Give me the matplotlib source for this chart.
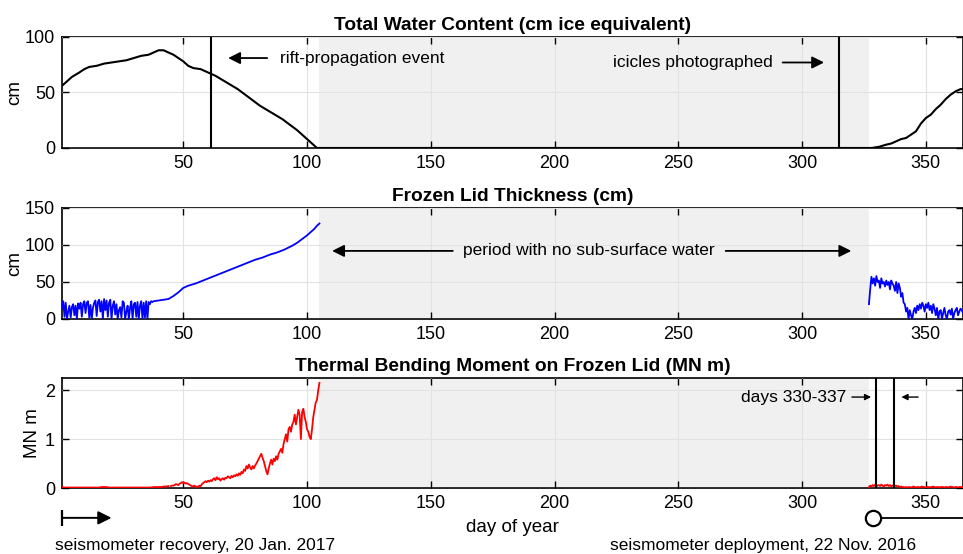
import numpy as np
import matplotlib
matplotlib.use('Agg')
import matplotlib.pyplot as plt

plt.rcParams['font.family'] = ['Liberation Sans', 'DejaVu Sans']

# ---- data ----
# total water content (cm ice equivalent)
twc_days = [1, 3, 5, 8, 10, 12, 15, 18, 21, 24, 27, 30, 33, 36, 38, 40, 42, 44, 46, 48,
            50, 52, 54, 57, 60, 63, 66, 69, 72, 75, 78, 81, 84, 87, 90, 93, 96, 99, 101,
            103, 104, 105, 200, 328, 331, 334, 336, 338, 340, 342, 344, 346, 348, 350,
            352, 354, 356, 358, 360, 362, 364, 365]
twc_vals = [56, 60, 64, 68, 71, 73, 74, 76, 77, 78, 79, 81, 83, 84, 86, 88, 88, 86, 84, 81,
            78, 74, 72, 71, 68, 65, 61, 57, 53, 48, 43, 38, 34, 30, 26, 21, 16, 10, 6,
            2, 0, 0, 0, 0, 1, 3, 4, 6, 8, 9, 12, 15, 22, 27,
            30, 35, 39, 44, 48, 51, 53, 53]

# frozen lid thickness (cm), noisy start sampled every half day from day 1
lid_noisy_a = [15, 24, 3, 22, 0, 10, 18, 2, 16, 20, 5, 18, 0, 21, 14, 22, 3, 20, 24, 8,
               22, 24, 2, 19, 0, 15, 22, 25, 4, 23, 26, 10, 24, 0, 27, 12, 25, 3, 22, 26,
               0, 18, 24, 6, 20, 0, 12, 16, 2, 24, 22, 0, 10, 18, 0, 15, 24, 0, 20, 22,
               3, 23, 0, 18, 24, 0, 22, 2, 24, 0, 23, 20, 24, 23]
lid_days_b = [38, 40, 42, 44, 46, 48, 50, 52, 55, 58, 61, 64, 67, 70, 73, 76, 79, 82, 85,
              88, 91, 94, 96, 98, 100, 102, 103, 104, 105]
lid_vals_b = [24, 25, 26, 27, 31, 36, 42, 45, 48, 52, 56, 60, 64, 68, 72, 76, 80, 83, 87,
              90, 94, 99, 103, 108, 113, 119, 122, 126, 129]
# late-year part, half-day samples from day 327
lid_noisy_c = [20, 40, 57, 48, 55, 45, 58, 50, 52, 42, 55, 48, 50, 44, 52, 46, 50, 40, 52, 48,
               45, 38, 50, 35, 48, 42, 30, 35, 22, 20, 10, 15, 0, 12, 5, 0, 10, 15, 8, 18,
               12, 20, 14, 22, 18, 10, 20, 15, 22, 12, 18, 8, 20, 14, 5, 15, 0, 10, 12, 0,
               8, 15, 5, 0, 10, 12, 6, 14, 0, 8, 12, 15, 5, 10, 14, 12, 8]

# thermal bending moment (MN m)
bm_vals_a = [0.02, 0.01, 0.01, 0.01, 0.01, 0.01, 0.01, 0.01, 0.01, 0.01, 0.01, 0.01, 0.01,
             0.01, 0.01, 0.01, 0.02, 0.02, 0.02, 0.01, 0.01, 0.01, 0.01, 0.01, 0.01, 0.01,
             0.01, 0.01, 0.01, 0.01, 0.01, 0.01, 0.01, 0.01, 0.01, 0.01, 0.01, 0.02, 0.02,
             0.02, 0.02, 0.03, 0.03, 0.04]
bm_vals_b = [0.04, 0.05, 0.05, 0.06, 0.08, 0.07, 0.06, 0.09, 0.10, 0.12, 0.10, 0.11, 0.09,
             0.10, 0.08, 0.07, 0.05, 0.04, 0.03, 0.05, 0.02, 0.03, 0.02, 0.05, 0.04, 0.08,
             0.10, 0.12, 0.14, 0.12, 0.15, 0.13, 0.16, 0.14, 0.18, 0.20, 0.16, 0.22, 0.18,
             0.20, 0.15, 0.18, 0.20, 0.17, 0.21, 0.20, 0.24, 0.22, 0.20, 0.25, 0.22, 0.26,
             0.24, 0.28, 0.25, 0.30, 0.27, 0.33, 0.30, 0.38, 0.35, 0.45, 0.40, 0.48, 0.42,
             0.38, 0.45, 0.40, 0.46, 0.50, 0.55, 0.60, 0.65, 0.70, 0.62, 0.55, 0.45, 0.35,
             0.28, 0.40, 0.50, 0.58, 0.48, 0.60, 0.55, 0.65, 0.58, 0.70, 0.75, 0.80, 0.72,
             0.90, 1.00, 1.10, 0.95, 1.20, 1.25, 1.15, 1.30, 1.35, 1.50, 1.30, 1.45, 1.60,
             1.50, 1.00, 1.55, 1.62, 1.45, 1.35, 1.20, 1.15, 1.05, 1.00, 1.20, 1.45, 1.60,
             1.75, 1.80, 2.00, 2.15]
bm_vals_c = [0.02, 0.05, 0.03, 0.06, 0.04, 0.07, 0.03, 0.05, 0.06, 0.04, 0.07, 0.05, 0.03,
             0.06, 0.05, 0.07, 0.04, 0.06, 0.03, 0.05, 0.06, 0.04, 0.05, 0.03, 0.04, 0.02,
             0.03, 0.02, 0.02, 0.01, 0.02, 0.01, 0.02, 0.02, 0.01, 0.02, 0.03, 0.02, 0.01,
             0.02, 0.02, 0.01, 0.02, 0.03, 0.02, 0.02, 0.01, 0.02, 0.02, 0.01, 0.02, 0.02,
             0.03, 0.02, 0.01, 0.02, 0.02, 0.01, 0.02, 0.02, 0.02, 0.01, 0.02, 0.02, 0.01,
             0.02, 0.03, 0.02, 0.02, 0.01, 0.02, 0.02, 0.01, 0.02, 0.02, 0.02, 0.02]

lid_days_a = np.arange(len(lid_noisy_a)) * 0.5 + 1
lid_days_c = np.arange(len(lid_noisy_c)) * 0.5 + 327
bm_days_a = np.arange(len(bm_vals_a)) + 1
bm_days_b = np.arange(len(bm_vals_b)) * 0.5 + 45
bm_days_c = np.arange(len(bm_vals_c)) * 0.5 + 327

dry_start, dry_end = 105, 327
rift_day, icicle_day = 61, 315
win_a, win_b = 330, 337

TICK_FS = 13
NOTE_FS = 12.5
TITLE_FS = 13.8
LABEL_FS = 13.5

fig = plt.figure(figsize=(9.63, 5.54), dpi=100)
ax1 = fig.add_axes([0.0644, 0.7329, 0.9356, 0.2004])
ax2 = fig.add_axes([0.0644, 0.4242, 0.9356, 0.2004])
ax3 = fig.add_axes([0.0644, 0.1191, 0.9356, 0.1986])

for ax in (ax1, ax2, ax3):
    ax.set_xlim(1, 365)
    ax.axvspan(dry_start, dry_end, color='#f0f0f0', lw=0, zorder=0)
    ax.grid(True, color='#e2e2e2', lw=0.8, zorder=1)
    ax.set_axisbelow(False)
    ax.set_xticks([50, 100, 150, 200, 250, 300, 350])
    ax.tick_params(direction='in', top=True, right=True, length=5, width=1,
                   labelsize=TICK_FS, pad=5)
    for s in ax.spines.values():
        s.set_linewidth(1.2)

# top panel
ax1.plot(twc_days, twc_vals, color='black', lw=1.5, zorder=3)
ax1.axvline(rift_day, color='black', lw=1.5, zorder=3)
ax1.axvline(icicle_day, color='black', lw=1.5, zorder=3)
ax1.set_ylim(0, 100)
ax1.set_yticks([0, 50, 100])
ax1.set_ylabel('cm', fontsize=LABEL_FS, labelpad=1)
ax1.set_title('Total Water Content (cm ice equivalent)', fontsize=TITLE_FS,
              fontweight='bold', pad=5)
ax1.annotate('', xy=(67, 81), xytext=(85, 81),
             arrowprops=dict(arrowstyle='-|>', color='black', lw=1.3, mutation_scale=18))
ax1.text(89, 81, 'rift-propagation event', fontsize=NOTE_FS, va='center', ha='left')
ax1.annotate('', xy=(310, 77), xytext=(291, 77),
             arrowprops=dict(arrowstyle='-|>', color='black', lw=1.3, mutation_scale=18))
ax1.text(288, 77, 'icicles photographed', fontsize=NOTE_FS, va='center', ha='right')

# middle panel
ax2.plot(lid_days_a, lid_noisy_a, color='blue', lw=1.3, zorder=3)
ax2.plot(lid_days_b, lid_vals_b, color='blue', lw=1.3, zorder=3)
ax2.plot(lid_days_c, lid_noisy_c, color='blue', lw=1.3, zorder=3)
ax2.set_ylim(0, 150)
ax2.set_yticks([0, 50, 100, 150])
ax2.set_ylabel('cm', fontsize=LABEL_FS, labelpad=1)
ax2.set_title('Frozen Lid Thickness (cm)', fontsize=TITLE_FS, fontweight='bold', pad=5)
ax2.annotate('', xy=(109, 92), xytext=(160, 92),
             arrowprops=dict(arrowstyle='-|>', color='black', lw=1.3, mutation_scale=18))
ax2.annotate('', xy=(321, 92), xytext=(268, 92),
             arrowprops=dict(arrowstyle='-|>', color='black', lw=1.3, mutation_scale=18))
ax2.text(214, 92, 'period with no sub-surface water', fontsize=NOTE_FS,
         va='center', ha='center')

# bottom panel
ax3.plot(bm_days_a, bm_vals_a, color='red', lw=1.3, zorder=3)
ax3.plot(bm_days_b, bm_vals_b, color='red', lw=1.3, zorder=3)
ax3.plot(bm_days_c, bm_vals_c, color='red', lw=1.3, zorder=3)
ax3.axvline(win_a, color='black', lw=1.5, zorder=3)
ax3.axvline(win_b, color='black', lw=1.5, zorder=3)
ax3.set_ylim(0, 2.25)
ax3.set_yticks([0, 1, 2])
ax3.set_ylabel('MN m', fontsize=LABEL_FS, labelpad=3)
ax3.set_title('Thermal Bending Moment on Frozen Lid (MN m)', fontsize=TITLE_FS,
              fontweight='bold', pad=5)
ax3.set_xlabel('day of year', fontsize=LABEL_FS, labelpad=5)
ax3.annotate('', xy=(329, 1.86), xytext=(319, 1.86),
             arrowprops=dict(arrowstyle='-|>', color='black', lw=1.0, mutation_scale=9))
ax3.text(318, 1.86, 'days 330-337', fontsize=NOTE_FS, va='center', ha='right')
ax3.annotate('', xy=(339, 1.86), xytext=(348, 1.86),
             arrowprops=dict(arrowstyle='-|>', color='black', lw=1.0, mutation_scale=9))

# seismometer timing markers below the bottom axis
ax3.annotate('', xy=(21, -0.61), xytext=(1, -0.61), annotation_clip=False,
             arrowprops=dict(arrowstyle='-|>', color='black', lw=1.4, mutation_scale=20,
                             shrinkA=0, shrinkB=0))
ax3.plot([1], [-0.61], marker='|', color='black', ms=11, mew=1.6, clip_on=False)
ax3.plot([328.6, 370], [-0.61, -0.61], color='black', lw=1.3, clip_on=False)
ax3.plot([328.6], [-0.61], marker='o', mfc='white', mec='black', ms=11, mew=1.6,
         clip_on=False)
fig.text(0.057, 0.016, 'seismometer recovery, 20 Jan. 2017', fontsize=NOTE_FS,
         ha='left', va='center')
fig.text(0.792, 0.016, 'seismometer deployment, 22 Nov. 2016', fontsize=NOTE_FS,
         ha='center', va='center')

fig.savefig('out.png', dpi=100)
